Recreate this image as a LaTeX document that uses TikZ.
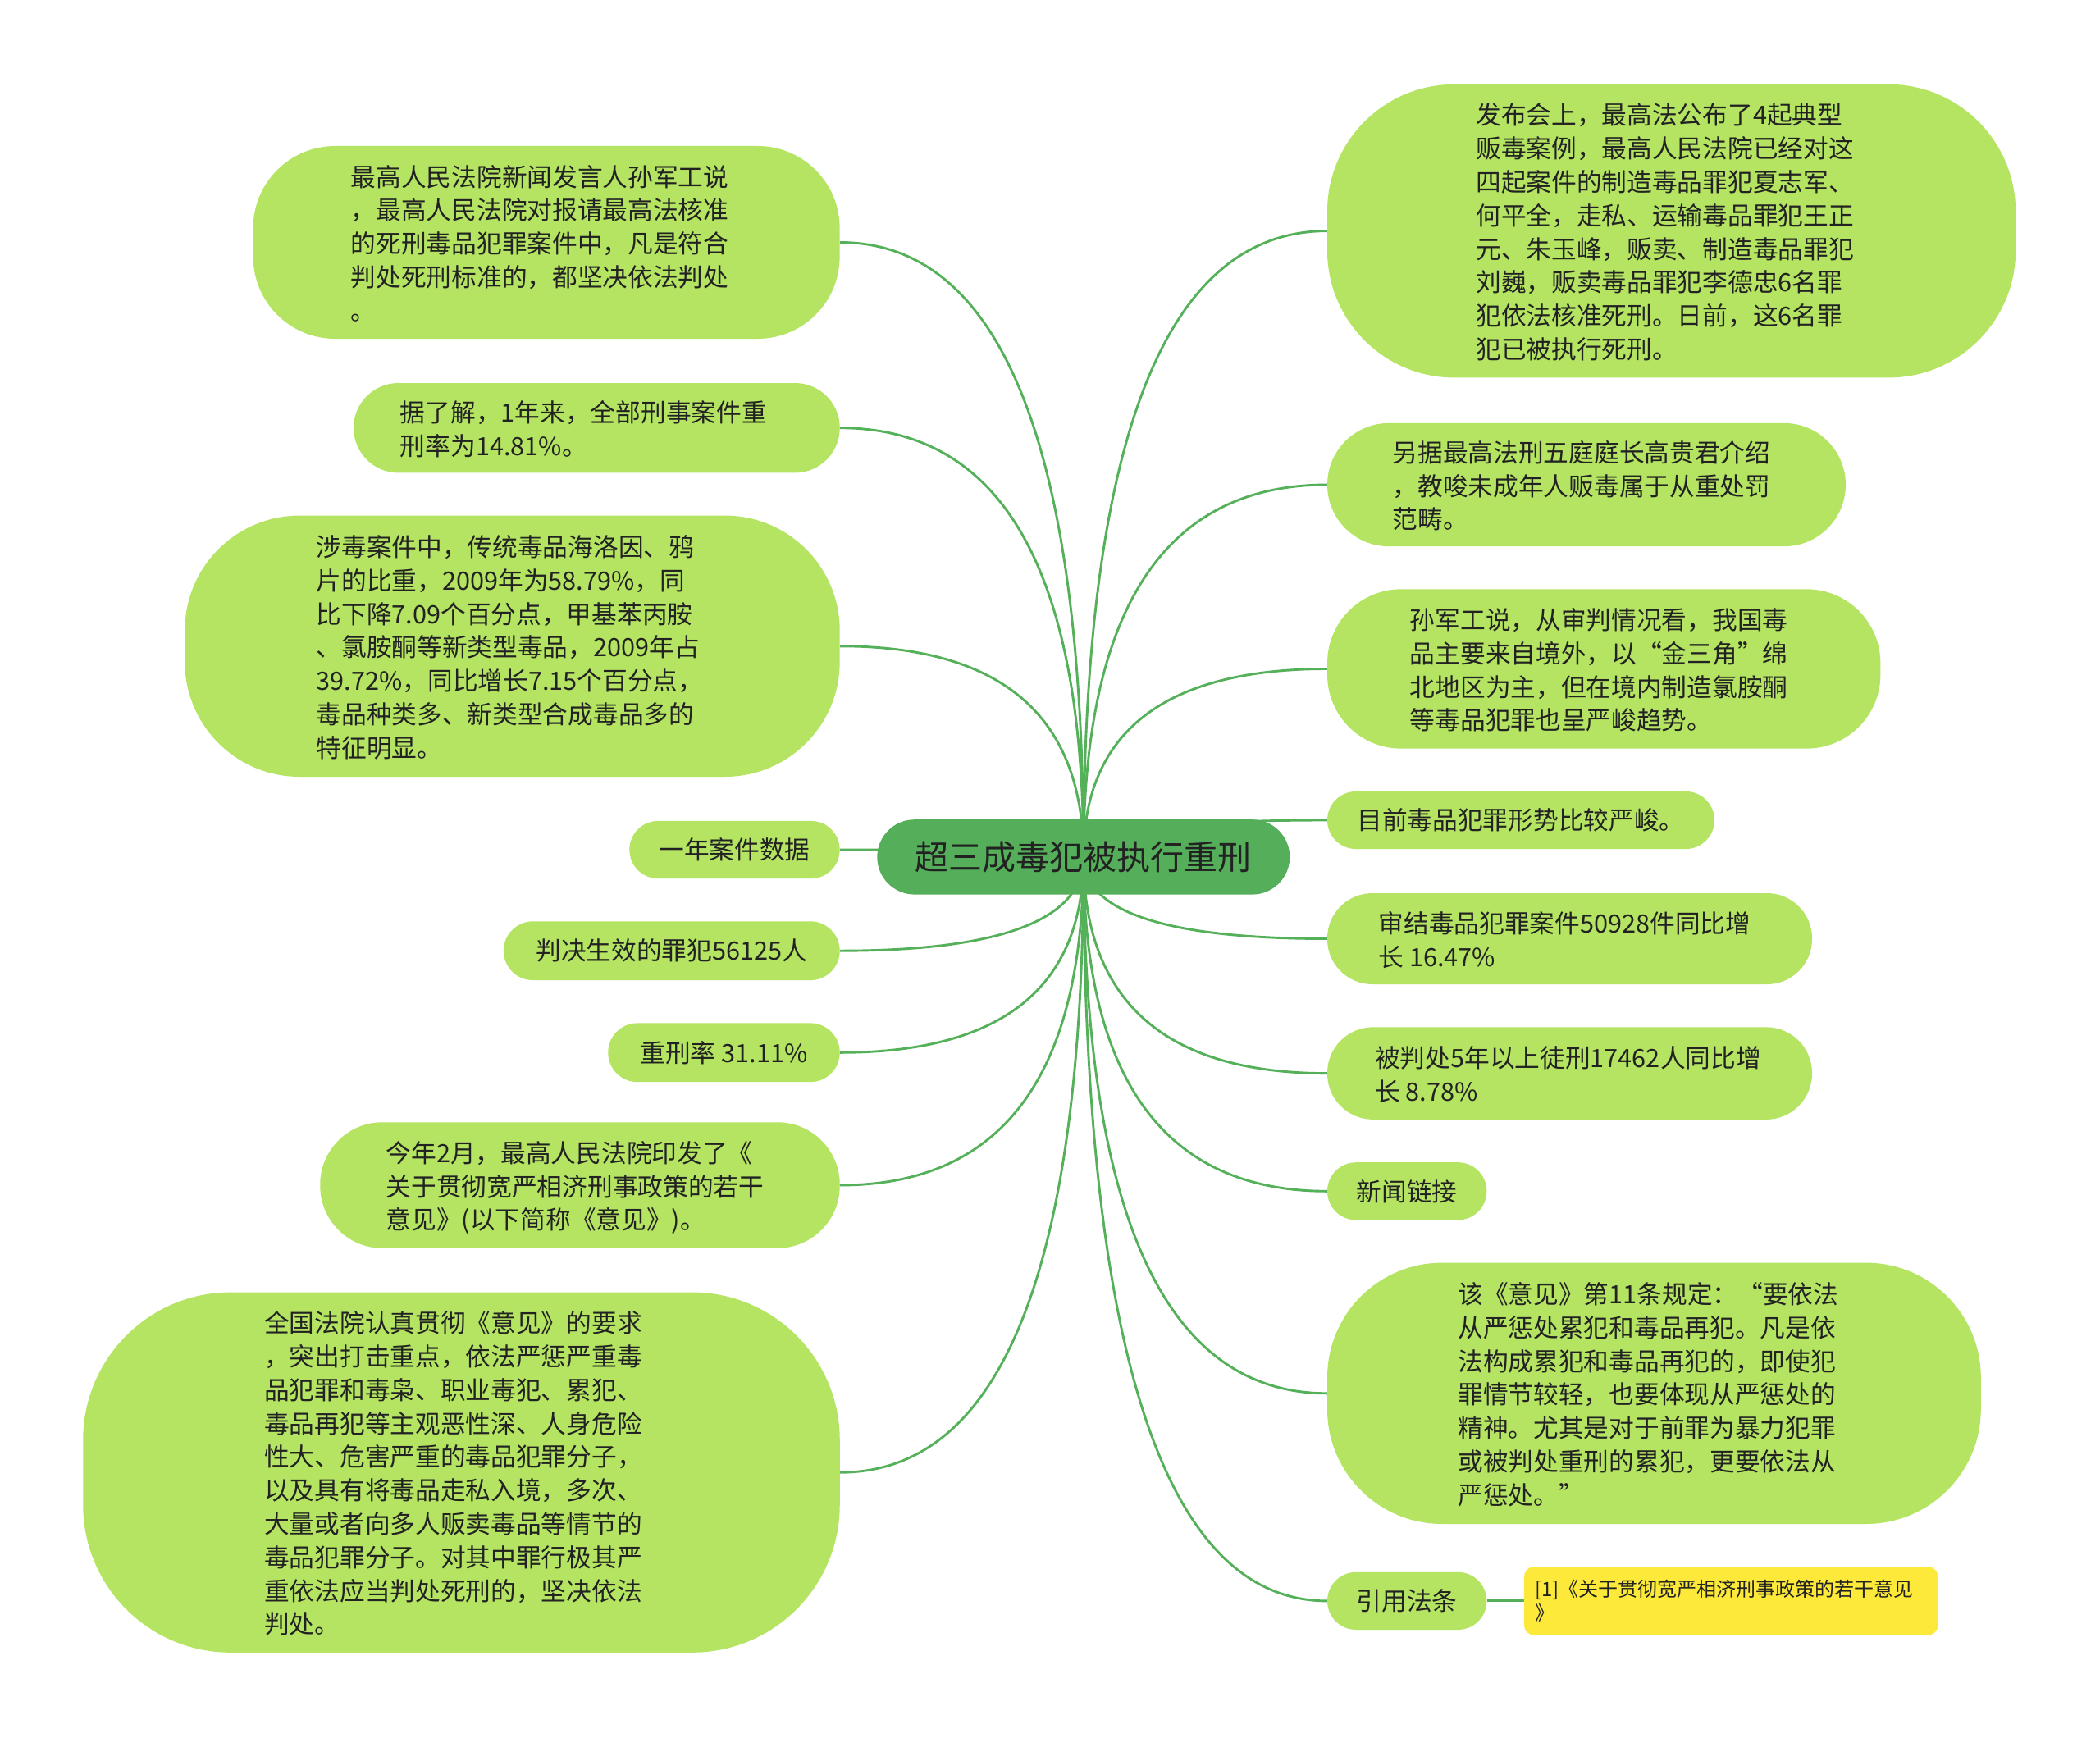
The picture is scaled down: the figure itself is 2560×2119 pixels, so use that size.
\documentclass[tikz,border=0pt]{standalone}
\usepackage{fontspec}
\newfontfamily\cjk{Noto Sans CJK SC}
\usetikzlibrary{calc,backgrounds}
\definecolor{leaf}{HTML}{B4E462}
\definecolor{rootc}{HTML}{55AF5A}
\definecolor{wirec}{HTML}{55B05A}
\definecolor{ink}{HTML}{222222}
\definecolor{notec}{HTML}{FCE93A}
\tikzset{
  leafbox/.style={rectangle, fill=leaf, text=ink, align=left, inner sep=0pt,
    font=\cjk\fontsize{30.7}{40.8}\selectfont},
  rootbox/.style={rectangle, fill=rootc, text=ink, align=center, inner sep=0pt,
    font=\cjk\fontsize{41}{50}\selectfont},
  notebox/.style={rectangle, fill=notec, text=ink, align=left, inner sep=0pt,
    rounded corners=12pt, font=\cjk\fontsize{24}{29.4}\selectfont},
  wirestyle/.style={draw=wirec, line width=2.9pt}
}
\newcommand\mmtext[2][16pt]{\raisebox{0pt}[\dimexpr\height+10pt\relax][\depth]{\begin{tabular}{@{}l@{\hspace{#1}}}#2\end{tabular}}}
\newcommand\mmlink[2]{%
  \coordinate (kk) at (ctr.center |- #1.#2);
  \draw[wirestyle] (ctr.center) .. controls ($(ctr.center)!0.6667!(kk)$) and ($(#1.#2)!0.6667!(kk)$) .. (#1.#2);}
\begin{document}
\begin{tikzpicture}[x=1pt,y=-1pt]
\useasboundingbox (0,0) rectangle (2560,2119);

% root
\node[rootbox, minimum width=503pt, minimum height=91.4pt, rounded corners=45.7pt] (ctr) at (1320.8,1044.9) {超三成毒犯被执行重刑};

% left side
\node[leafbox, minimum width=715pt, minimum height=235pt, rounded corners=100pt] (L1) at (666.1,295.5)
 {\mmtext[16pt]{最高人民法院新闻发言人孙军工说\\，最高人民法院对报请最高法核准\\的死刑毒品犯罪案件中，凡是符合\\判处死刑标准的，都坚决依法判处\\。}};
\node[leafbox, minimum width=592.7pt, minimum height=109.4pt, rounded corners=54.7pt] (L2) at (727.4,521.7)
 {\mmtext[32pt]{据了解，1年来，全部刑事案件重\\刑率为14.81\%。}};
\node[leafbox, minimum width=798.4pt, minimum height=318.4pt, rounded corners=140pt] (L3) at (624.5,787.8)
 {\mmtext[6pt]{涉毒案件中，传统毒品海洛因、鸦\\片的比重，2009年为58.79\%，同\\比下降7.09个百分点，甲基苯丙胺\\、氯胺酮等新类型毒品，2009年占\\39.72\%，同比增长7.15个百分点，\\毒品种类多、新类型合成毒品多的\\特征明显。}};
\node[leafbox, minimum width=256.3pt, minimum height=70.2pt, rounded corners=35pt] (L4) at (895.5,1036)
 {一年案件数据};
\node[leafbox, minimum width=409.8pt, minimum height=71.8pt, rounded corners=35.9pt] (L5) at (818.8,1159.2)
 {判决生效的罪犯56125人};
\node[leafbox, minimum width=282.5pt, minimum height=71.8pt, rounded corners=35.9pt] (L6) at (882.5,1283.3)
 {重刑率 31.11\%};
\node[leafbox, minimum width=633.5pt, minimum height=153.5pt, rounded corners=76pt] (L7) at (707,1445)
 {\mmtext[12pt]{今年2月，最高人民法院印发了《\\关于贯彻宽严相济刑事政策的若干\\意见》(以下简称《意见》)。}};
\node[leafbox, minimum width=922.5pt, minimum height=439.2pt, rounded corners=180pt] (L8) at (562.5,1795.2)
 {\mmtext[20pt]{全国法院认真贯彻《意见》的要求\\，突出打击重点，依法严惩严重毒\\品犯罪和毒枭、职业毒犯、累犯、\\毒品再犯等主观恶性深、人身危险\\性大、危害严重的毒品犯罪分子，\\以及具有将毒品走私入境，多次、\\大量或者向多人贩卖毒品等情节的\\毒品犯罪分子。对其中罪行极其严\\重依法应当判处死刑的，坚决依法\\判处。}};

% right side
\node[leafbox, minimum width=839.2pt, minimum height=357.6pt, rounded corners=155pt] (R1) at (2037.6,281.6)
 {\mmtext[16pt]{发布会上，最高法公布了4起典型\\贩毒案例，最高人民法院已经对这\\四起案件的制造毒品罪犯夏志军、\\何平全，走私、运输毒品罪犯王正\\元、朱玉峰，贩卖、制造毒品罪犯\\刘巍，贩卖毒品罪犯李德忠6名罪\\犯依法核准死刑。日前，这6名罪\\犯已被执行死刑。}};
\node[leafbox, minimum width=631.9pt, minimum height=150.2pt, rounded corners=75pt] (R2) at (1934,591)
 {\mmtext[12pt]{另据最高法刑五庭庭长高贵君介绍\\，教唆未成年人贩毒属于从重处罚\\范畴。}};
\node[leafbox, minimum width=674.3pt, minimum height=194.3pt, rounded corners=90pt] (R3) at (1955.2,815.5)
 {\mmtext[12pt]{孙军工说，从审判情况看，我国毒\\品主要来自境外，以“金三角”绵\\北地区为主，但在境内制造氯胺酮\\等毒品犯罪也呈严峻趋势。}};
\node[leafbox, minimum width=471.9pt, minimum height=70.2pt, rounded corners=35pt] (R4) at (1854,1000)
 {目前毒品犯罪形势比较严峻。};
\node[leafbox, minimum width=591pt, minimum height=111pt, rounded corners=55pt] (R5) at (1913.5,1144.5)
 {\mmtext[12pt]{审结毒品犯罪案件50928件同比增\\长 16.47\%}};
\node[leafbox, minimum width=591pt, minimum height=112.6pt, rounded corners=56pt] (R6) at (1913.5,1308.6)
 {\mmtext[4pt]{被判处5年以上徒刑17462人同比增\\长 8.78\%}};
\node[leafbox, minimum width=194.3pt, minimum height=70.2pt, rounded corners=35pt] (R7) at (1715.2,1452.3)
 {新闻链接};
\node[leafbox, minimum width=796.8pt, minimum height=318.4pt, rounded corners=140pt] (R8) at (2016.4,1698.8)
 {\mmtext[14pt]{该《意见》第11条规定：“要依法\\从严惩处累犯和毒品再犯。凡是依\\法构成累犯和毒品再犯的，即使犯\\罪情节较轻，也要体现从严惩处的\\精神。尤其是对于前罪为暴力犯罪\\或被判处重刑的累犯，更要依法从\\严惩处。”}};
\node[leafbox, minimum width=194.3pt, minimum height=70.2pt, rounded corners=35pt] (R9) at (1715.2,1951.9)
 {引用法条};
\node[notebox, minimum width=504.5pt, minimum height=83.2pt, text width=478pt] (Y1) at (2110.2,1951.9)
 {[1]《关于贯彻宽严相济刑事政策的若干意见\\》};

\begin{scope}[on background layer]
\fill[white] (0,0) rectangle (2560,2119);
\mmlink{L1}{east}
\mmlink{L2}{east}
\mmlink{L3}{east}
\mmlink{L4}{east}
\mmlink{L5}{east}
\mmlink{L6}{east}
\mmlink{L7}{east}
\mmlink{L8}{east}
\mmlink{R1}{west}
\mmlink{R2}{west}
\mmlink{R3}{west}
\mmlink{R4}{west}
\mmlink{R5}{west}
\mmlink{R6}{west}
\mmlink{R7}{west}
\mmlink{R8}{west}
\mmlink{R9}{west}
\draw[wirestyle] (R9.east) -- (Y1.west);
\end{scope}
\end{tikzpicture}
\end{document}
